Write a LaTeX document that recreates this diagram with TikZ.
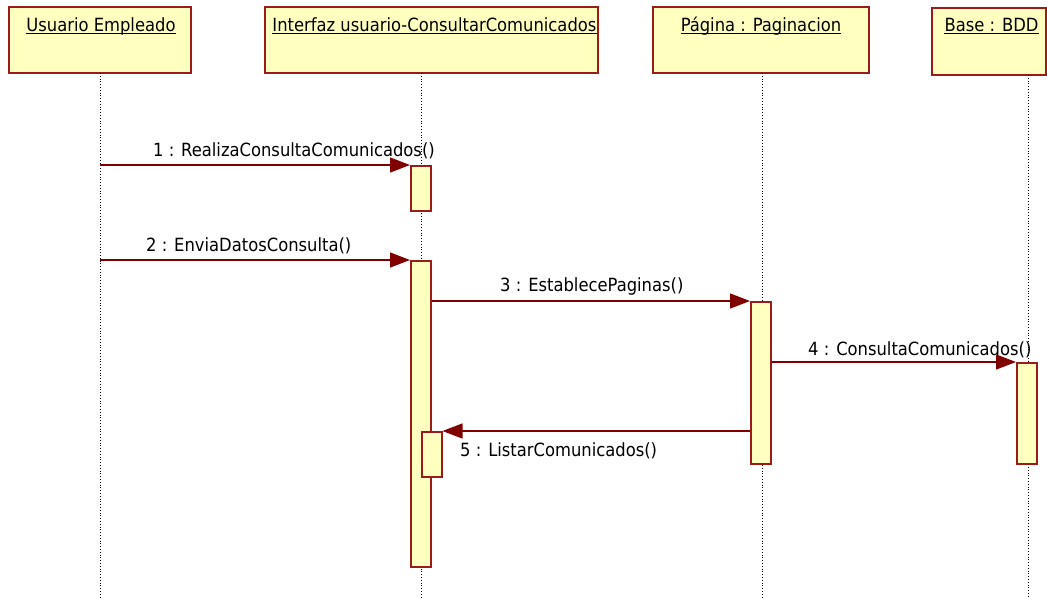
\documentclass[tikz,border=0pt]{standalone}
\usepackage{fontspec}
\IfFontExistsTF{DejaVu Sans Condensed}{\setmainfont{DejaVu Sans Condensed}}{\setmainfont{DejaVu Sans}}
\usetikzlibrary{arrows.meta}
\definecolor{boxfill}{HTML}{FFFFC0}
\definecolor{boxline}{HTML}{9B1B1B}
\definecolor{msgline}{HTML}{800000}
\tikzset{
  hdr/.style={draw=boxline, fill=boxfill, line width=1.8pt, rectangle, inner sep=0pt, anchor=north west},
  hdrtext/.style={anchor=base, inner sep=0pt, font=\fontsize{18.2}{21}\selectfont},
  uline/.style={draw=black, line width=1.2pt},
  life/.style={draw=black, line width=0.8pt, dotted},
  bar/.style={draw=boxline, fill=boxfill, line width=1.5pt, rectangle, inner sep=0pt, minimum width=20pt, anchor=north west},
  msg/.style={draw=msgline, line width=1.3pt, -{Triangle[length=20pt,width=15pt]}},
  lbl/.style={anchor=base west, inner sep=0pt, font=\fontsize{18.2}{21}\selectfont}
}
\begin{document}
\begin{tikzpicture}[x=1pt,y=-1pt]
\useasboundingbox (0,0) rectangle (1047,598);
% headers
\node[hdr, minimum width=182pt, minimum height=66pt] (ue) at (8,6) {};
\node[hdr, minimum width=333pt, minimum height=66pt] (ui) at (264,6) {};
\node[hdr, minimum width=216pt, minimum height=66pt] (pg) at (652,6) {};
\node[hdr, minimum width=114pt, minimum height=67pt] (bd) at (931,7) {};
\node[hdrtext] (tue) at (101,31) {Usuario Empleado};
\node[hdrtext] (tui) at (434.5,31) {Interfaz usuario-ConsultarComunicados};
\node[hdrtext] (tpg) at (761,31) {Página : Paginacion};
\node[hdrtext] (tbd) at (991.5,31) {Base : BDD};
\foreach \t in {tue,tui,tpg,tbd}
  \draw[uline] ([yshift=-2.5pt]\t.base west) -- ([yshift=-2.5pt]\t.base east);
% lifelines
\coordinate (l1a) at (100,73); \coordinate (l1b) at (100,598);
\coordinate (l2a) at (421,73); \coordinate (l2b) at (421,598);
\coordinate (l3a) at (762,73); \coordinate (l3b) at (762,598);
\coordinate (l4a) at (1028,75); \coordinate (l4b) at (1028,598);
\draw[life] (l1a) -- (l1b);
\draw[life] (l2a) -- (l2b);
\draw[life] (l3a) -- (l3b);
\draw[life] (l4a) -- (l4b);
% activation bars
\node[bar, minimum height=45pt] (b1) at (410,165) {};
\node[bar, minimum height=306pt] (b2) at (410,260) {};
\node[bar, minimum height=45pt] (b3) at (421,431) {};
\node[bar, minimum height=162pt] (b4) at (750,301) {};
\node[bar, minimum height=101pt] (b5) at (1016,362) {};
% message sources
\coordinate (s1) at (100,165);
\coordinate (s2) at (100,260);
% messages
\draw[msg] (s1) -- (b1.north west);
\draw[msg] (s2) -- (b2.north west);
\draw[msg] (b2.east |- b4.north) -- (b4.north west);
\draw[msg] (b4.east |- b5.north) -- (b5.north west);
\draw[msg] (b4.west |- b3.north) -- (b3.north east);
% labels
\node[lbl] (m1) at (153,156) {1 : RealizaConsultaComunicados()};
\node[lbl] (m2) at (146,251) {2 : EnviaDatosConsulta()};
\node[lbl] (m3) at (500,291) {3 : EstablecePaginas()};
\node[lbl] (m4) at (808,355) {4 : ConsultaComunicados()};
\node[lbl] (m5) at (460,456) {5 : ListarComunicados()};
\end{tikzpicture}
\end{document}
